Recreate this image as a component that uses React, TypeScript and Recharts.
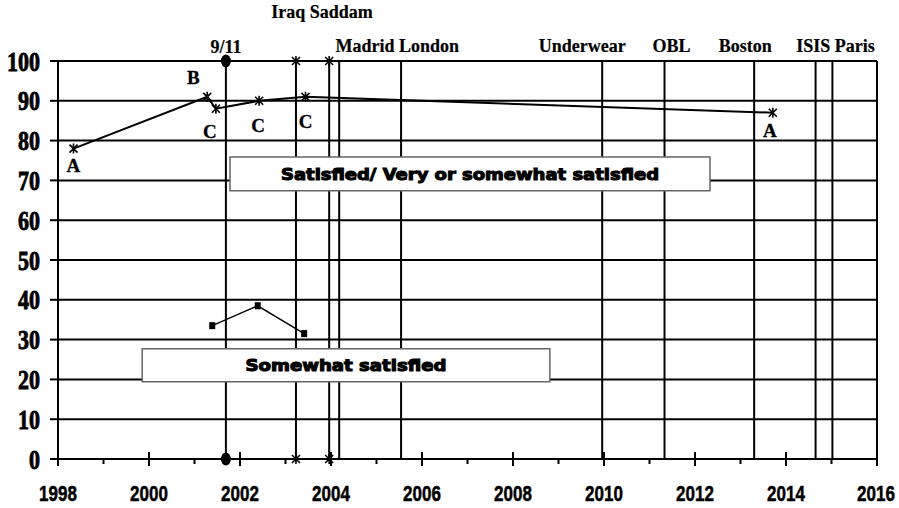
import { CartesianGrid, ReferenceArea, ReferenceLine, Scatter, ScatterChart, XAxis, YAxis } from "recharts";

const satisfiedYears = [1998.34, 2001.28, 2001.47, 2002.42, 2003.44, 2013.71];
const satisfiedValues = [78, 91, 88, 90, 91, 87];
const satisfiedTags = ["A", "B", "C", "C", "C", "A"];

const somewhatYears = [2001.39, 2002.39, 2003.41];
const somewhatValues = [33.5, 38.5, 31.5];

const eventNames = ["9/11", "Iraq", "Saddam", "Madrid", "London", "Underwear", "OBL", "Boston", "ISIS", "Paris"];
const eventYears = [2001.69, 2003.23, 2003.96, 2004.18, 2005.54, 2009.96, 2011.33, 2013.3, 2014.65, 2015.02];
const eventMarkers = ["dot", "star", "star", "", "", "", "", "", "", ""];
const eventLabels = ["9/11", "Iraq Saddam", "", "Madrid London", "", "Underwear", "OBL", "Boston", "ISIS Paris", ""];

const yearTicks = [1998, 1999, 2000, 2001, 2002, 2003, 2004, 2005, 2006, 2007, 2008, 2009, 2010, 2011, 2012, 2013, 2014, 2015, 2016];
const valueTicks = [0, 10, 20, 30, 40, 50, 60, 70, 80, 90, 100];

const satisfied = satisfiedYears.map((x, i) => ({ x, y: satisfiedValues[i], tag: satisfiedTags[i] }));
const somewhat = somewhatYears.map((x, i) => ({ x, y: somewhatValues[i] }));
const eventPoints = (kind: string) =>
  eventYears.flatMap((x, i) => (eventMarkers[i] === kind ? [{ x, y: 100 }, { x, y: 0 }] : []));

// where each tag letter sits relative to its point
const TAG_OFFSETS: [number, number][] = [[0, 23], [-14, -13], [-6, 29], [-1, 31], [0, 31], [-3, 24]];
// where each event caption sits relative to its line (x shift, baseline above plot top)
const LABEL_OFFSETS: Record<string, [number, number]> = {
  "9/11": [0, 8],
  "Iraq Saddam": [26, 43],
  "Madrid London": [58, 9],
  Underwear: [-20, 9],
  OBL: [7, 9],
  Boston: [-9, 9],
  "ISIS Paris": [20, 9],
};

const SERIF = "'Liberation Serif', 'Times New Roman', serif";
const SANS = "'Liberation Sans', Arial, sans-serif";
const HEAVY = "'DejaVu Sans', 'Liberation Sans', sans-serif";

function Star({ cx, cy }: { cx: number; cy: number }) {
  return (
    <path
      d={`M${cx},${cy - 5}V${cy + 5}M${cx - 4},${cy - 4}L${cx + 4},${cy + 4}M${cx + 4},${cy - 4}L${cx - 4},${cy + 4}`}
      stroke="#000"
      strokeWidth={1.6}
      fill="none"
    />
  );
}

function SatisfiedPoint(props: any) {
  const { cx, cy, payload } = props;
  const i = satisfiedYears.indexOf(payload.x);
  const [dx, dy] = TAG_OFFSETS[i] ?? [0, 22];
  return (
    <g>
      <Star cx={cx} cy={cy} />
      <text
        x={cx + dx}
        y={cy + dy}
        textAnchor="middle"
        fontFamily={SERIF}
        fontWeight="bold"
        fontSize={19}
        stroke="#000"
        strokeWidth={0.3}
        fill="#000"
      >
        {payload.tag}
      </text>
    </g>
  );
}

function SquarePoint({ cx, cy }: any) {
  return <rect x={cx - 3} y={cy - 3.5} width={6} height={7} fill="#000" />;
}

function DotPoint({ cx, cy }: any) {
  return <ellipse cx={cx} cy={cy} rx={5} ry={6.5} fill="#000" />;
}

function YearTick({ x, y, payload }: any) {
  const year = payload.value as number;
  const major = year % 2 === 0;
  return (
    <g>
      <line x1={x} x2={x} y1={major ? y - 7 : y} y2={y + (major ? 7 : 5)} stroke="#000" strokeWidth={2} />
      {major && (
        <text
          transform={`translate(${year === 2016 ? x - 1 : x},${y + 42}) scale(1,1.35)`}
          textAnchor="middle"
          fontFamily={SANS}
          fontWeight="bold"
          fontSize={17}
          stroke="#000"
          strokeWidth={0.4}
          fill="#000"
        >
          {year}
        </text>
      )}
    </g>
  );
}

function ValueTick({ x, y, payload }: any) {
  return (
    <text
      transform={`translate(${x},${y + 9.5}) scale(1,1.2)`}
      textAnchor="end"
      fontFamily={SERIF}
      fontWeight="bold"
      fontSize={22}
      stroke="#000"
      strokeWidth={0.7}
      fill="#000"
    >
      {payload.value}
    </text>
  );
}

function eventCaption(text: string) {
  return (props: any) => {
    const vb = props.viewBox;
    const [dx, up] = LABEL_OFFSETS[text];
    return (
      <text
        x={vb.x + dx}
        y={vb.y - up}
        textAnchor="middle"
        fontFamily={SERIF}
        fontWeight="bold"
        fontSize={18}
        stroke="#000"
        strokeWidth={0.2}
        fill="#000"
      >
        {text}
      </text>
    );
  };
}

function boxCaption(text: string, width: number) {
  return (props: any) => {
    const vb = props.viewBox;
    return (
      <text
        x={vb.x + vb.width / 2}
        y={vb.y + vb.height / 2 + 6}
        textAnchor="middle"
        fontFamily={HEAVY}
        fontWeight="bold"
        fontSize={16}
        textLength={width}
        lengthAdjust="spacingAndGlyphs"
        stroke="#000"
        strokeWidth={1.1}
        fill="#000"
      >
        {text}
      </text>
    );
  };
}

export default function App() {
  return (
    <div style={{ width: 899, height: 508, background: "#fff" }}>
      <style>{"body{margin:0}"}</style>
      <ScatterChart width={899} height={508} margin={{ top: 61, right: 22, bottom: 0, left: 0 }}>
        <CartesianGrid vertical={false} stroke="#000" strokeWidth={2} />
        <XAxis
          type="number"
          dataKey="x"
          domain={[1998, 2016]}
          ticks={yearTicks}
          interval={0}
          height={49}
          tickSize={0}
          tickMargin={0}
          tickLine={false}
          axisLine={{ stroke: "#000", strokeWidth: 2 }}
          tick={<YearTick />}
        />
        <YAxis
          type="number"
          dataKey="y"
          domain={[0, 100]}
          ticks={valueTicks}
          interval={0}
          width={58}
          tickSize={8}
          tickMargin={10}
          tickLine={{ stroke: "#000", strokeWidth: 2 }}
          axisLine={{ stroke: "#000", strokeWidth: 2 }}
          tick={<ValueTick />}
        />
        {eventYears.map((year, i) => (
          <ReferenceLine
            key={eventNames[i]}
            x={year}
            stroke="#000"
            strokeWidth={2}
            label={eventLabels[i] ? eventCaption(eventLabels[i]) : undefined}
          />
        ))}
        <ReferenceLine x={2016} stroke="#000" strokeWidth={2} />
        <Scatter
          data={satisfied}
          line={{ stroke: "#000", strokeWidth: 2 }}
          shape={<SatisfiedPoint />}
          isAnimationActive={false}
        />
        <Scatter
          data={somewhat}
          line={{ stroke: "#000", strokeWidth: 1.5 }}
          shape={<SquarePoint />}
          isAnimationActive={false}
        />
        <Scatter data={eventPoints("dot")} shape={<DotPoint />} isAnimationActive={false} />
        <Scatter data={eventPoints("star")} shape={(p: any) => <Star cx={p.cx} cy={p.cy} />} isAnimationActive={false} />
        <ReferenceArea
          x1={2001.78}
          x2={2012.33}
          y1={67.4}
          y2={75.9}
          fill="#fff"
          fillOpacity={1}
          stroke="#666"
          strokeWidth={1.5}
          zIndex={700}
          label={boxCaption("Satisfied/ Very or somewhat satisfied", 378)}
        />
        <ReferenceArea
          x1={1999.85}
          x2={2008.81}
          y1={19.4}
          y2={27.7}
          fill="#fff"
          fillOpacity={1}
          stroke="#666"
          strokeWidth={1.5}
          zIndex={700}
          label={boxCaption("Somewhat satisfied", 201)}
        />
      </ScatterChart>
    </div>
  );
}
